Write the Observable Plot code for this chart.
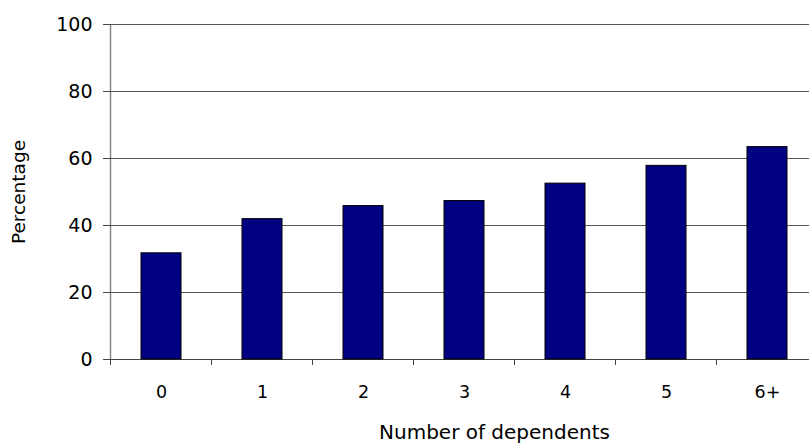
<!DOCTYPE html>
<html><head><meta charset="utf-8">
<script src="https://cdn.jsdelivr.net/npm/d3@7"></script>
<script src="https://cdn.jsdelivr.net/npm/@observablehq/plot@0.6"></script>
<style>html,body{margin:0;padding:0;background:#fff;overflow:hidden}</style>
</head><body><div id="chart"></div>
<script>
const categories = ["0", "1", "2", "3", "4", "5", "6+"];
const values = [31.7, 41.9, 45.8, 47.3, 52.5, 57.8, 63.4];
const yTicks = [0, 20, 40, 60, 80, 100];
const xTitle = "Number of dependents";
const yTitle = "Percentage";

const data = categories.map((c, i) => ({cat: c, value: values[i]}));

// category boundary ticks and the vertical y-axis line, placed from the scales
const axisLines = (index, scales) => {
  const x = scales.x, y = scales.y;
  const step = x.step(), bw = x.bandwidth();
  const y0 = y(0), yTop = y(yTicks[yTicks.length - 1]);
  const g = d3.create("svg:g");
  categories.forEach(c => {
    const bx = x(c) - (step - bw) / 2;
    g.append("line").attr("x1", bx).attr("x2", bx).attr("y1", y0).attr("y2", y0 + 6)
      .attr("stroke", "#444").attr("stroke-width", 1);
  });
  const left = x(categories[0]) - (step - bw) / 2;
  g.append("line").attr("x1", left).attr("x2", left).attr("y1", yTop).attr("y2", y0)
    .attr("stroke", "#888").attr("stroke-width", 1.5);
  return g.node();
};

const chart = Plot.plot({
  width: 809,
  height: 443,
  marginLeft: 111,
  marginRight: -9,
  marginTop: 24,
  marginBottom: 84,
  style: {fontFamily: "DejaVu Sans", fontSize: "19px", color: "#000", background: "#fff", overflow: "visible"},
  x: {domain: categories, paddingInner: 0.6, paddingOuter: 0.3},
  y: {domain: [0, 100]},
  marks: [
    Plot.ruleY(yTicks.filter(t => t > 0), {stroke: "#555", strokeWidth: 1}),
    Plot.ruleY([0], {stroke: "#444", strokeWidth: 1}),
    Plot.barY(data, {x: "cat", y: "value", fill: "#000080", stroke: "#000", strokeWidth: 1}),
    axisLines,
    Plot.axisY(yTicks, {tickSize: 8, tickPadding: 11, stroke: "#444", fontSize: 19, label: null}),
    Plot.axisX({tickSize: 0, tickPadding: 26, fontSize: 17.5, label: null}),
    Plot.text([xTitle], {text: d => d, frameAnchor: "bottom", dy: 73, dx: 29.5, lineAnchor: "middle", fontSize: 20}),
    Plot.text([yTitle], {text: d => d, frameAnchor: "left", rotate: -90, dx: -92, textAnchor: "middle", lineAnchor: "middle", fontSize: 18.5})
  ]
});
document.getElementById("chart").appendChild(chart);
</script>
</body></html>
